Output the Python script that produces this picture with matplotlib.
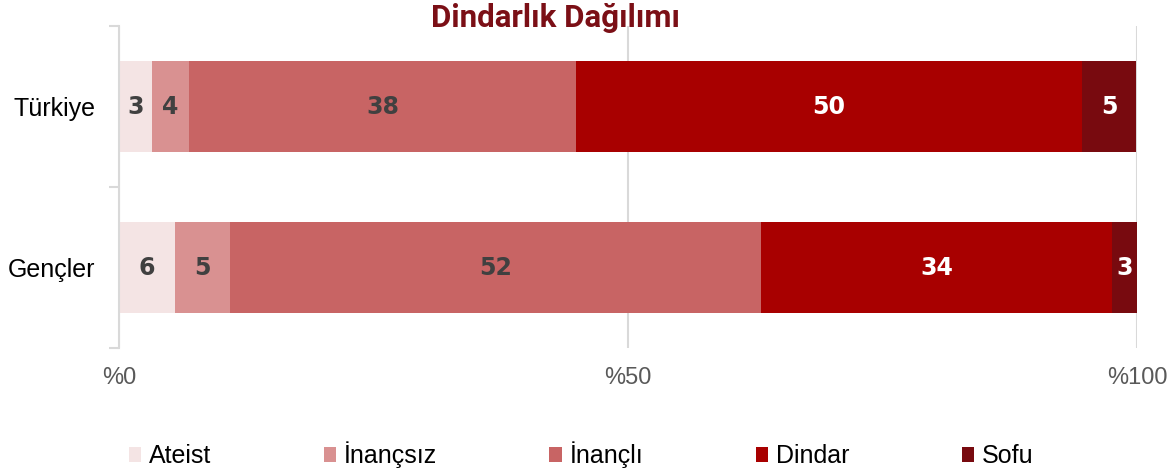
import matplotlib
matplotlib.use("Agg")
from matplotlib import pyplot as plt
from matplotlib.ticker import FixedLocator, FuncFormatter
from matplotlib.patches import Patch

groups = ["Türkiye", "Gençler"]
series = ["Ateist", "İnançsız", "İnançlı", "Dindar", "Sofu"]
values = {
    "Ateist":   [3.2, 5.5],
    "İnançsız": [3.7, 5.4],
    "İnançlı":  [38.0, 52.2],
    "Dindar":   [49.7, 34.4],
    "Sofu":     [5.3, 2.6],
}
colors = ["#F4E4E4", "#D99191", "#C86464", "#A80000", "#780A0F"]
label_colors = ["#404040", "#404040", "#404040", "white", "white"]

fig = plt.figure(figsize=(11.69, 4.72), dpi=100)
ax = fig.add_axes([0.1018, 0.2627, 0.8708, 0.6822])

ypos = list(range(len(groups)))
left = [0.0] * len(groups)
for name, col, lcol in zip(series, colors, label_colors):
    vals = values[name]
    bars = ax.barh(ypos, vals, left=left, height=0.56, color=col, edgecolor="none", zorder=2)
    for b, v in zip(bars, vals):
        ax.text(b.get_x() + b.get_width() / 2, b.get_y() + b.get_height() / 2, f"{v:.0f}",
                ha="center", va="center", color=lcol, fontsize=17, fontweight="heavy",
                family="DejaVu Sans", zorder=3)
    left = [l + v for l, v in zip(left, vals)]

ax.set_xlim(0, 100)
ax.set_ylim(1.5, -0.5)
ax.xaxis.set_major_locator(FixedLocator([0, 50, 100]))
ax.xaxis.set_major_formatter(FuncFormatter(lambda x, pos: f"%{int(x)}"))
ax.tick_params(axis="x", length=0, pad=14, labelsize=17, labelcolor="#595959")
ax.set_yticks(ypos)
ax.set_yticklabels(groups, fontsize=18, family="Liberation Sans")
ax.set_yticks([-0.5, 0.5, 1.5], minor=True)
ax.tick_params(axis="y", which="major", length=0, pad=17)
ax.tick_params(axis="y", which="minor", length=7, width=1.5, color="#D9D9D9")
ax.grid(axis="x", color="#D9D9D9", linewidth=1.5, zorder=0)
for s in ["top", "right", "bottom"]:
    ax.spines[s].set_visible(False)
ax.spines["left"].set_color("#D9D9D9")
ax.spines["left"].set_linewidth(1.5)
ax.set_axisbelow(True)

for lab in ax.get_xticklabels():
    lab.set_family("Liberation Sans")

fig.text(0.4756, 0.962, "Dindarlık Dağılımı", ha="center", va="center",
         fontsize=22.5, fontweight="bold", color="#7B0F16", family="Roboto")

handles = [Patch(facecolor=c, edgecolor="none") for c in colors]
fig.legend(handles, series, loc="center", bbox_to_anchor=(0.497, 0.036), ncol=5,
           frameon=False, handlelength=0.5, handleheight=0.5, handletextpad=0.3,
           columnspacing=4.5, prop={"family": "Liberation Sans", "size": 18})

fig.savefig("out.png", dpi=100)
